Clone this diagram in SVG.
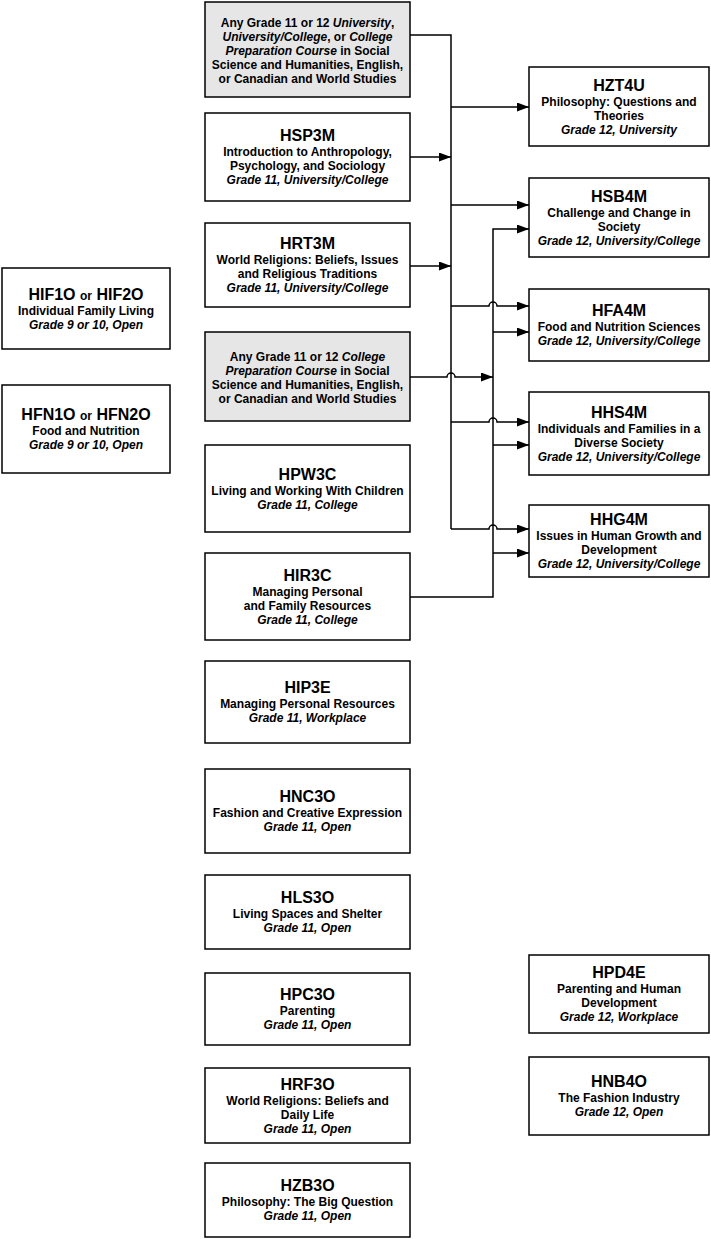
<svg xmlns="http://www.w3.org/2000/svg" width="711" height="1239" viewBox="0 0 711 1239">
<style>
.box{fill:#fff;stroke:#000;stroke-width:1.5}
.gray{fill:#e6e6e6;stroke:#000;stroke-width:1.5}
text{font-family:"Liberation Sans",Arial,sans-serif;font-weight:bold;fill:#000;text-anchor:middle}
.t{font-size:16px}
.b{font-size:12px}
.s{font-size:12px}
.i{font-style:italic}
.c{fill:none;stroke:#000;stroke-width:1.5}
</style>
<defs>
<marker id="ah" markerUnits="userSpaceOnUse" markerWidth="13" markerHeight="9" refX="12" refY="4.5" orient="auto">
<path d="M0,0 L12,4.5 L0,9 z" fill="#000"/>
</marker>
</defs>
<rect width="711" height="1239" fill="#fff"/>

<g id="connectors">
<path class="c" d="M410,35 H451 V529"/>
<path class="c" d="M410,157 H451" marker-end="url(#ah)"/>
<path class="c" d="M410,266 H451" marker-end="url(#ah)"/>
<path class="c" d="M451,107 H529" marker-end="url(#ah)"/>
<path class="c" d="M451,205 H529" marker-end="url(#ah)"/>
<path class="c" d="M451,306 H489 a4,4 0 0 1 8,0 H529" marker-end="url(#ah)"/>
<path class="c" d="M451,422 H489 a4,4 0 0 1 8,0 H529" marker-end="url(#ah)"/>
<path class="c" d="M451,529 H489 a4,4 0 0 1 8,0 H529" marker-end="url(#ah)"/>
<path class="c" d="M410,597 H493 V229 H529" marker-end="url(#ah)"/>
<path class="c" d="M493,332 H529" marker-end="url(#ah)"/>
<path class="c" d="M493,445 H529" marker-end="url(#ah)"/>
<path class="c" d="M493,553 H529" marker-end="url(#ah)"/>
<path class="c" d="M410,377 H447 a4,4 0 0 1 8,0 H493" marker-end="url(#ah)"/>
</g>

<g id="any-grade-11-12-u-uc-c">
<rect class="gray" x="205" y="2" width="205" height="95"/>
<text class="b" x="307.5" y="27">Any Grade 11 or 12 <tspan class="i">University</tspan>,</text>
<text class="b" x="307.5" y="41"><tspan class="i">University/College</tspan>, or <tspan class="i">College</tspan></text>
<text class="b" x="307.5" y="55"><tspan class="i">Preparation Course</tspan> in Social</text>
<text class="b" x="307.5" y="69">Science and Humanities, English,</text>
<text class="b" x="307.5" y="83">or Canadian and World Studies</text>
</g>

<g id="HSP3M">
<rect class="box" x="205" y="113" width="205" height="88"/>
<text class="t" x="307.5" y="141">HSP3M</text>
<text class="b" x="307.5" y="156">Introduction to Anthropology,</text>
<text class="b" x="307.5" y="170">Psychology, and Sociology</text>
<text class="b i" x="307.5" y="184">Grade 11, University/College</text>
</g>

<g id="HRT3M">
<rect class="box" x="205" y="223" width="205" height="84"/>
<text class="t" x="307.5" y="249">HRT3M</text>
<text class="b" x="307.5" y="264">World Religions: Beliefs, Issues</text>
<text class="b" x="307.5" y="278">and Religious Traditions</text>
<text class="b i" x="307.5" y="292">Grade 11, University/College</text>
</g>

<g id="any-grade-11-12-c">
<rect class="gray" x="205" y="332" width="205" height="89"/>
<text class="b" x="307.5" y="361">Any Grade 11 or 12 <tspan class="i">College</tspan></text>
<text class="b" x="307.5" y="375"><tspan class="i">Preparation Course</tspan> in Social</text>
<text class="b" x="307.5" y="389">Science and Humanities, English,</text>
<text class="b" x="307.5" y="403">or Canadian and World Studies</text>
</g>

<g id="HPW3C">
<rect class="box" x="205" y="445" width="205" height="87"/>
<text class="t" x="307.5" y="480">HPW3C</text>
<text class="b" x="307.5" y="495">Living and Working With Children</text>
<text class="b i" x="307.5" y="509">Grade 11, College</text>
</g>

<g id="HIR3C">
<rect class="box" x="205" y="553" width="205" height="87"/>
<text class="t" x="307.5" y="581">HIR3C</text>
<text class="b" x="307.5" y="596">Managing Personal</text>
<text class="b" x="307.5" y="610">and Family Resources</text>
<text class="b i" x="307.5" y="624">Grade 11, College</text>
</g>

<g id="HIP3E">
<rect class="box" x="205" y="661" width="205" height="82"/>
<text class="t" x="307.5" y="693">HIP3E</text>
<text class="b" x="307.5" y="708">Managing Personal Resources</text>
<text class="b i" x="307.5" y="722">Grade 11, Workplace</text>
</g>

<g id="HNC3O">
<rect class="box" x="205" y="769" width="205" height="84"/>
<text class="t" x="307.5" y="802">HNC3O</text>
<text class="b" x="307.5" y="817">Fashion and Creative Expression</text>
<text class="b i" x="307.5" y="831">Grade 11, Open</text>
</g>

<g id="HLS3O">
<rect class="box" x="205" y="875" width="205" height="74"/>
<text class="t" x="307.5" y="903">HLS3O</text>
<text class="b" x="307.5" y="918">Living Spaces and Shelter</text>
<text class="b i" x="307.5" y="932">Grade 11, Open</text>
</g>

<g id="HPC3O">
<rect class="box" x="205" y="973" width="205" height="72"/>
<text class="t" x="307.5" y="1000">HPC3O</text>
<text class="b" x="307.5" y="1015">Parenting</text>
<text class="b i" x="307.5" y="1029">Grade 11, Open</text>
</g>

<g id="HRF3O">
<rect class="box" x="205" y="1068" width="205" height="75"/>
<text class="t" x="307.5" y="1090">HRF3O</text>
<text class="b" x="307.5" y="1105">World Religions: Beliefs and</text>
<text class="b" x="307.5" y="1119">Daily Life</text>
<text class="b i" x="307.5" y="1133">Grade 11, Open</text>
</g>

<g id="HZB3O">
<rect class="box" x="205" y="1163" width="205" height="74"/>
<text class="t" x="307.5" y="1191">HZB3O</text>
<text class="b" x="307.5" y="1206">Philosophy: The Big Question</text>
<text class="b i" x="307.5" y="1220">Grade 11, Open</text>
</g>

<g id="HZT4U">
<rect class="box" x="529" y="67" width="180" height="79"/>
<text class="t" x="619" y="91">HZT4U</text>
<text class="b" x="619" y="106">Philosophy: Questions and</text>
<text class="b" x="619" y="120">Theories</text>
<text class="b i" x="619" y="134">Grade 12, University</text>
</g>

<g id="HSB4M">
<rect class="box" x="529" y="178" width="180" height="79"/>
<text class="t" x="619" y="202">HSB4M</text>
<text class="b" x="619" y="217">Challenge and Change in</text>
<text class="b" x="619" y="231">Society</text>
<text class="b i" x="619" y="245">Grade 12, University/College</text>
</g>

<g id="HFA4M">
<rect class="box" x="529" y="289" width="180" height="72"/>
<text class="t" x="619" y="316">HFA4M</text>
<text class="b" x="619" y="331">Food and Nutrition Sciences</text>
<text class="b i" x="619" y="345">Grade 12, University/College</text>
</g>

<g id="HHS4M">
<rect class="box" x="529" y="392" width="180" height="83"/>
<text class="t" x="619" y="418">HHS4M</text>
<text class="b" x="619" y="433">Individuals and Families in a</text>
<text class="b" x="619" y="447">Diverse Society</text>
<text class="b i" x="619" y="461">Grade 12, University/College</text>
</g>

<g id="HHG4M">
<rect class="box" x="529" y="505" width="180" height="72"/>
<text class="t" x="619" y="525">HHG4M</text>
<text class="b" x="619" y="540">Issues in Human Growth and</text>
<text class="b" x="619" y="554">Development</text>
<text class="b i" x="619" y="568">Grade 12, University/College</text>
</g>

<g id="HPD4E">
<rect class="box" x="529" y="955" width="180" height="78"/>
<text class="t" x="619" y="978">HPD4E</text>
<text class="b" x="619" y="993">Parenting and Human</text>
<text class="b" x="619" y="1007">Development</text>
<text class="b i" x="619" y="1021">Grade 12, Workplace</text>
</g>

<g id="HNB4O">
<rect class="box" x="529" y="1057" width="180" height="78"/>
<text class="t" x="619" y="1087">HNB4O</text>
<text class="b" x="619" y="1102">The Fashion Industry</text>
<text class="b i" x="619" y="1116">Grade 12, Open</text>
</g>

<g id="HIF1O-HIF2O">
<rect class="box" x="2" y="268" width="168" height="81"/>
<text class="t" x="86" y="300">HIF1O <tspan class="s">or</tspan> HIF2O</text>
<text class="b" x="86" y="315">Individual Family Living</text>
<text class="b i" x="86" y="329">Grade 9 or 10, Open</text>
</g>

<g id="HFN1O-HFN2O">
<rect class="box" x="2" y="385" width="168" height="88"/>
<text class="t" x="86" y="420">HFN1O <tspan class="s">or</tspan> HFN2O</text>
<text class="b" x="86" y="435">Food and Nutrition</text>
<text class="b i" x="86" y="449">Grade 9 or 10, Open</text>
</g>
</svg>
